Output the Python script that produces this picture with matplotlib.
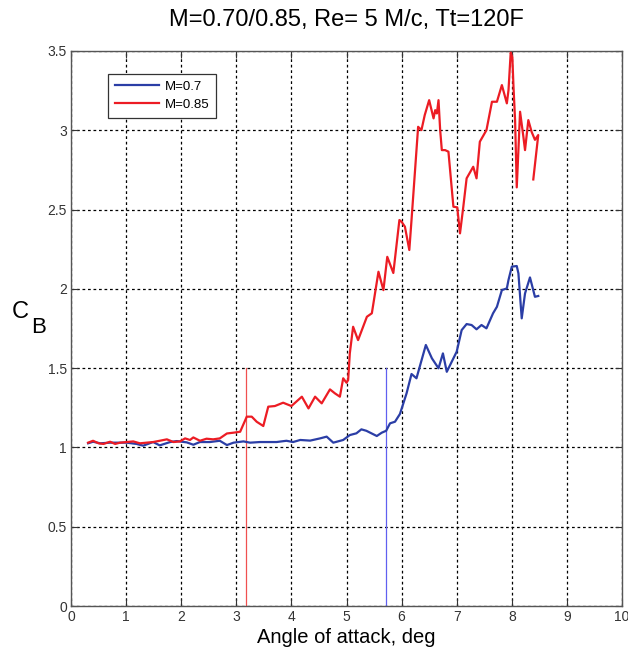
import matplotlib
matplotlib.use("Agg")
import matplotlib.pyplot as plt
from matplotlib.lines import Line2D

plt.rcParams['font.family'] = ['Liberation Sans', 'DejaVu Sans']

# ---- data ----
alpha_07 = [0.31, 0.40, 0.53, 0.71, 1.01, 1.19, 1.31, 1.49, 1.61, 1.80, 1.92, 2.10, 2.22, 2.34,
            2.52, 2.70, 2.83, 2.95, 3.13, 3.25, 3.43, 3.73, 3.91, 4.03, 4.16, 4.34, 4.52, 4.64,
            4.76, 4.94, 5.06, 5.18, 5.27, 5.36, 5.55, 5.64, 5.72, 5.79, 5.88, 5.97, 6.09, 6.18,
            6.27, 6.44, 6.55, 6.67, 6.75, 6.82, 7.00, 7.09, 7.18, 7.27, 7.36, 7.45, 7.54, 7.66,
            7.73, 7.82, 7.91, 7.94, 8.00, 8.09, 8.12, 8.18, 8.24, 8.33, 8.42, 8.48]
cb_07 = [1.026, 1.036, 1.026, 1.030, 1.030, 1.022, 1.011, 1.034, 1.013, 1.034, 1.040, 1.032, 1.017, 1.034,
         1.034, 1.042, 1.015, 1.030, 1.038, 1.030, 1.034, 1.034, 1.042, 1.034, 1.047, 1.043, 1.057, 1.068,
         1.030, 1.047, 1.078, 1.089, 1.114, 1.105, 1.072, 1.093, 1.105, 1.152, 1.162, 1.211, 1.341, 1.463,
         1.436, 1.646, 1.562, 1.499, 1.593, 1.477, 1.604, 1.740, 1.778, 1.772, 1.745, 1.772, 1.751, 1.846,
         1.887, 1.992, 2.003, 2.056, 2.140, 2.144, 2.098, 1.814, 1.971, 2.072, 1.950, 1.955]

alpha_085 = [0.31, 0.40, 0.50, 0.59, 0.71, 0.80, 0.89, 1.01, 1.13, 1.25, 1.37, 1.49, 1.61, 1.74,
             1.86, 1.98, 2.07, 2.16, 2.22, 2.34, 2.46, 2.58, 2.70, 2.83, 2.95, 3.07, 3.19, 3.28,
             3.37, 3.49, 3.58, 3.70, 3.85, 4.00, 4.19, 4.31, 4.43, 4.55, 4.70, 4.79, 4.88, 4.94,
             5.00, 5.03, 5.06, 5.12, 5.21, 5.37, 5.46, 5.58, 5.67, 5.74, 5.85, 5.96, 6.00, 6.06,
             6.14, 6.18, 6.24, 6.30, 6.36, 6.42, 6.50, 6.58, 6.61, 6.64, 6.67, 6.70, 6.73, 6.79,
             6.85, 6.94, 7.01, 7.06, 7.12, 7.18, 7.30, 7.36, 7.42, 7.54, 7.64, 7.73, 7.82, 7.91,
             7.94, 7.98, 8.01, 8.03, 8.06, 8.09, 8.12, 8.15, 8.21, 8.24, 8.30, 8.36, 8.42, 8.48, 8.39]
cb_085 = [1.030, 1.042, 1.026, 1.022, 1.036, 1.022, 1.030, 1.034, 1.038, 1.026, 1.030, 1.034, 1.042, 1.051,
          1.034, 1.038, 1.057, 1.047, 1.063, 1.042, 1.055, 1.051, 1.057, 1.088, 1.093, 1.099, 1.194, 1.194,
          1.162, 1.135, 1.257, 1.261, 1.282, 1.261, 1.320, 1.246, 1.320, 1.278, 1.366, 1.341, 1.320, 1.436,
          1.408, 1.425, 1.593, 1.761, 1.677, 1.824, 1.846, 2.108, 1.992, 2.202, 2.100, 2.434, 2.423, 2.392,
          2.245, 2.434, 2.728, 3.022, 3.001, 3.096, 3.190, 3.075, 3.127, 3.106, 3.190, 3.001, 2.875, 2.875,
          2.865, 2.518, 2.514, 2.350, 2.518, 2.697, 2.770, 2.697, 2.928, 3.001, 3.180, 3.180, 3.285, 3.170,
          3.253, 3.490, 3.460, 3.280, 3.060, 2.640, 2.875, 3.117, 2.960, 2.875, 3.064, 2.990, 2.940, 2.970, 2.690]

marker_alpha = [3.18, 5.71]
marker_cb = [0.0, 1.5]

series_labels = ["M=0.7", "M=0.85"]
xticks = [0, 1, 2, 3, 4, 5, 6, 7, 8, 9, 10]
yticks = [0, 0.5, 1, 1.5, 2, 2.5, 3, 3.5]
ytick_labels = ["0", "0.5", "1", "1.5", "2", "2.5", "3", "3.5"]

assert len(alpha_07) == len(cb_07)
assert len(alpha_085) == len(cb_085)

BLUE = "#2b3ea6"
RED = "#ec1c24"

fig = plt.figure(figsize=(6.28, 6.56), dpi=100)
ax = fig.add_axes([71/628, 50/656, 551/628, 555/656])

ax.plot(alpha_07, cb_07, color=BLUE, lw=1.6, zorder=3)
ax.plot(alpha_085, cb_085, color=RED, lw=1.6, zorder=3)
ax.plot([marker_alpha[0]] * 2, marker_cb, color="#f05050", lw=0.9, zorder=2)
ax.plot([marker_alpha[1]] * 2, marker_cb, color="#6060f0", lw=0.9, zorder=2)

ax.set_xlim(0, 10)
ax.set_ylim(0, 3.5)
ax.set_xticks(xticks)
ax.set_yticks(yticks)
ax.set_yticklabels(ytick_labels)
ax.grid(True, color="black", linestyle=(0, (2.2, 2.2)), lw=0.9, zorder=1)
ax.tick_params(direction="in", top=True, right=True, length=5, width=0.8,
               labelsize=10, labelcolor="#333333", colors="#333333", pad=3)
for s in ax.spines.values():
    s.set_color("#555555")
    s.set_linewidth(1.0)

ax.set_xlabel("Angle of attack, deg", fontsize=14.5, labelpad=3)
fig.text(0.5 * (71 + 622) / 628, 1 - 20/656, "M=0.70/0.85, Re= 5 M/c, Tt=120F",
         ha="center", va="center", fontsize=17)
fig.text(20/628, 1 - 312/656, "C", ha="center", va="center", fontsize=17)
fig.text(39/628, 1 - 327/656, "B", ha="center", va="center", fontsize=16)

handles = [Line2D([], [], color=BLUE, lw=1.6), Line2D([], [], color=RED, lw=1.6)]
leg = ax.legend(handles, series_labels, loc="upper left",
                bbox_to_anchor=((108 - 71) / 551, (606 - 74) / 555),
                fontsize=9.5, frameon=True, fancybox=False, framealpha=1,
                edgecolor="#333333", handlelength=3.4, borderpad=0.5, labelspacing=0.45,
                handletextpad=0.4, borderaxespad=0)
leg.get_frame().set_linewidth(0.9)

fig.savefig("out.png", dpi=100)
